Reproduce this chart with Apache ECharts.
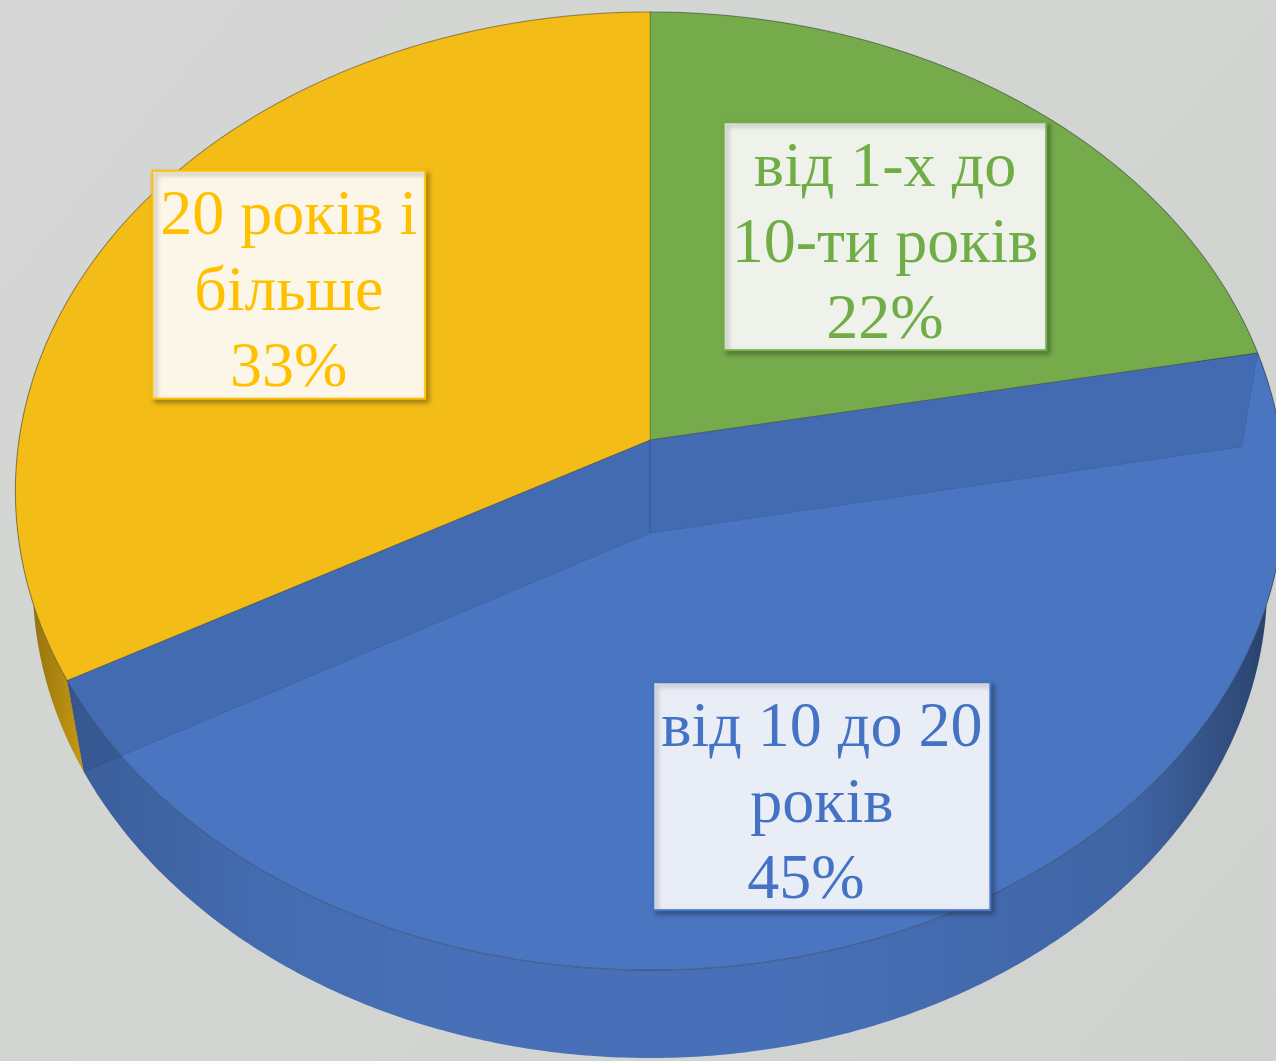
<!DOCTYPE html>
<html><head><meta charset="utf-8">
<script src="https://cdn.jsdelivr.net/npm/echarts@6/dist/echarts.min.js"></script>
<style>html,body{margin:0;padding:0;width:100%;height:100%;overflow:hidden;background:#d3d5d3}#c{width:1276px;height:1061px}</style>
</head><body><div id="c"></div>
<script>
// ---- data ----
const categories = ['від 1-х до\n10-ти років', 'від 10 до 20\nроків', '20 років і\nбільше'];
const values = [22, 45, 33];
const percentLabels = ['22%', '45%\u00a0\u00a0', '33%'];
const colors = ['#75ab4b', '#4a75c0', '#f3bc16'];
const labelFill = ['#eef2ea', '#e9edf5', '#fcf6e8'];
const textColors = ['#70ad47', '#4472c4', '#ffc000'];

// ---- geometry (perspective projection of a tilted disc) ----
const total = values.reduce((a, b) => a + b, 0);
const starts = []; let acc = 0;
values.forEach(v => { starts.push(acc / total * 2 * Math.PI); acc += v; });

const CX = 650, CY = 440, K = 0.1612, SINA = 0.7506, COSA = 0.6608, F = 631 / 0.1612, HK = 0.037;
function proj(th, r, hk) {
  const s = Math.sin(th), c = Math.cos(th);
  const den = 1 + hk * SINA + K * r * c * COSA;
  return [CX + F * K * r * s / den, CY - F * (K * r * c * SINA - hk * COSA) / den];
}
function arc(t1, t2, r, hk) {
  const n = Math.max(8, Math.ceil((t2 - t1) / 0.008));
  const pts = [];
  for (let i = 0; i <= n; i++) pts.push(proj(t1 + (t2 - t1) * i / n, r, hk));
  return pts;
}
function shade(hex, f) {
  const n = parseInt(hex.slice(1), 16);
  const r = Math.round(((n >> 16) & 255) * f), g = Math.round(((n >> 8) & 255) * f), b = Math.round((n & 255) * f);
  return 'rgb(' + r + ',' + g + ',' + b + ')';
}
const FONT = '64px "Liberation Serif", "Times New Roman", serif';
const mctx = document.createElement('canvas').getContext('2d');
function textWidth(str) {
  mctx.font = FONT;
  return Math.max.apply(null, str.split('\n').map(s => mctx.measureText(s).width));
}

const chart = echarts.init(document.getElementById('c'), null, { renderer: 'canvas' });
chart.setOption({
  animation: false,
  backgroundColor: { type: 'linear', x: 0, y: 0, x2: 1, y2: 1, colorStops: [
    { offset: 0, color: '#d5d6d5' }, { offset: 0.5, color: '#d2d5d2' }, { offset: 1, color: '#cfd2cf' }] },
  series: [{
    type: 'custom',
    coordinateSystem: 'none',
    data: values.map((v, i) => ({ name: categories[i], value: v })),
    renderItem: function (params, api) {
      const labelR = [0.6, 0.74, 0.69];
      const labelShift = [[5, 18], [1, 13], [0, 18]];
      const i = params.dataIndex;
      const v = api.value(0);
      const t1 = starts[i], t2 = t1 + v / total * 2 * Math.PI;
      const col = colors[i];
      const topArc = arc(t1, t2, 1, 0);
      const top = [proj(0, 0, 0)].concat(topArc);
      const side = topArc.concat(arc(t1, t2, 1, HK).reverse());
      const children = [];
      children.push({
        type: 'polygon', z2: 0, shape: { points: side },
        style: {
          fill: { type: 'linear', global: true, x: 15, y: 0, x2: 1285, y2: 0, colorStops: [
            { offset: 0, color: shade(col, 0.55) }, { offset: 0.05, color: shade(col, 0.8) },
            { offset: 0.2, color: shade(col, 0.92) }, { offset: 0.35, color: shade(col, 0.96) },
            { offset: 0.6, color: shade(col, 0.96) },
            { offset: 0.88, color: shade(col, 0.86) }, { offset: 0.97, color: shade(col, 0.62) },
            { offset: 1, color: shade(col, 0.5) }] },
          stroke: 'none'
        }
      });
      children.push({
        type: 'polygon', z2: 1, shape: { points: top },
        style: { fill: col, stroke: 'rgba(60,60,30,0.3)', lineWidth: 1 }
      });
      children.push({
        type: 'polyline', z2: 3, shape: { points: topArc },
        style: { fill: 'none', stroke: 'rgba(30,50,90,0.22)', lineWidth: 1.2 }
      });
      if (t1 < Math.PI && t2 > Math.PI) {
        [t1, t2].forEach(t => {
          children.push({
            type: 'polygon', z2: 2,
            shape: { points: [proj(0, 0, 0), proj(t, 1, 0), proj(t, 1, HK), proj(0, 0, HK)] },
            style: { fill: 'rgba(25,50,95,0.14)', stroke: 'rgba(25,50,95,0.16)', lineWidth: 1 }
          });
        });
      }
      const mid = (t1 + t2) / 2;
      const lp = proj(mid, labelR[i], 0);
      const tx = lp[0] + labelShift[i][0], ty = lp[1] + labelShift[i][1];
      const txt = categories[i] + '\n' + percentLabels[i];
      const bw = textWidth(txt) + 16, bh = 228;
      children.push({
        type: 'rect', z2: 9,
        shape: { x: tx - bw / 2, y: ty - 127, width: bw, height: bh },
        style: {
          fill: labelFill[i], stroke: textColors[i], lineWidth: 2,
          shadowBlur: 5, shadowColor: 'rgba(0,0,0,0.35)', shadowOffsetX: 3, shadowOffsetY: 3
        }
      });
      children.push({
        type: 'text', z2: 10,
        style: {
          text: txt, x: tx, y: ty - 4, align: 'center', verticalAlign: 'middle',
          font: FONT, fill: textColors[i], lineHeight: 76
        }
      });
      return { type: 'group', children: children };
    }
  }]
});
</script></body></html>
